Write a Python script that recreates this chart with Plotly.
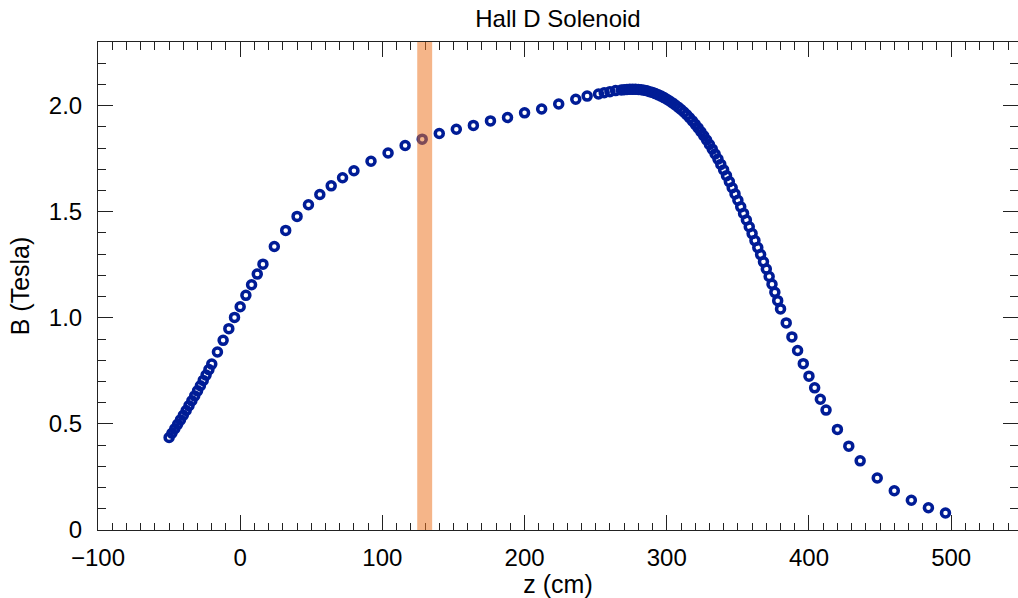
import plotly.graph_objects as go

# z positions (cm) of the field-map samples
z_cm = [-50, -48, -46, -44, -42, -40, -38, -36, -34, -32, -30, -28, -26, -24, -22, -20,
        -16, -12, -8, -4, 0, 4, 8, 12, 16,
        24, 32, 40, 48, 56, 64, 72, 80,
        92, 104, 116, 128, 140, 152, 164, 176, 188, 200, 212, 224, 236,
        244, 252, 256, 260, 264,
        268, 270, 272, 274, 276, 278, 280, 282, 284, 286, 288, 290, 292, 294, 296, 298,
        300, 302, 304, 306, 308, 310, 312, 314, 316, 318, 320, 322, 324, 326, 328, 330,
        332, 334, 336, 338, 340, 342, 344, 346, 348, 350, 352, 354, 356, 358, 360, 362,
        364, 366, 368, 370, 372, 374, 376, 378, 380,
        384, 388, 392, 396, 400, 404, 408, 412,
        420, 428, 436,
        448, 460, 472, 484, 496]

# B field (Tesla)
b_tesla = [0.436, 0.456, 0.477, 0.498, 0.519, 0.541, 0.563, 0.586, 0.609, 0.632, 0.656, 0.680, 0.705, 0.730, 0.756, 0.782,
           0.839, 0.894, 0.949, 1.002, 1.052, 1.106, 1.156, 1.206, 1.253,
           1.336, 1.412, 1.478, 1.533, 1.581, 1.622, 1.660, 1.693,
           1.738, 1.777, 1.812, 1.842, 1.869, 1.889, 1.907, 1.928, 1.944, 1.966, 1.984, 2.008, 2.030,
           2.045, 2.055, 2.061, 2.066, 2.071,
           2.074, 2.075, 2.076, 2.077, 2.077, 2.077, 2.076, 2.075, 2.073, 2.070, 2.066, 2.062, 2.057, 2.051, 2.045, 2.038,
           2.030, 2.022, 2.013, 2.003, 1.993, 1.982, 1.970, 1.957, 1.943, 1.928, 1.912, 1.895, 1.877, 1.858, 1.838, 1.817,
           1.795, 1.772, 1.748, 1.723, 1.697, 1.670, 1.642, 1.613, 1.584, 1.554, 1.523, 1.492, 1.461, 1.429, 1.397, 1.364,
           1.331, 1.298, 1.264, 1.230, 1.195, 1.158, 1.120, 1.081, 1.042,
           0.976, 0.910, 0.846, 0.784, 0.725, 0.670, 0.616, 0.565,
           0.474, 0.395, 0.326,
           0.245, 0.185, 0.140, 0.105, 0.080]

band_z = [124.5, 135.0]

x_ticks = [-100, 0, 100, 200, 300, 400, 500]
y_ticks = [0, 0.5, 1.0, 1.5, 2.0]
y_ticktext = ["0", "0.5", "1.0", "1.5", "2.0"]

FONT = "Liberation Sans, Arial, Helvetica, sans-serif"
AX = "#222222"

fig = go.Figure()
fig.add_trace(go.Scatter(
    x=z_cm, y=b_tesla, mode="markers",
    marker=dict(symbol="circle-open", size=8, color="rgb(0,28,150)",
                line=dict(width=3.5, color="rgb(0,28,150)")),
    showlegend=False, hoverinfo="x+y"))

fig.add_shape(type="rect", xref="x", yref="paper",
              x0=band_z[0], x1=band_z[1], y0=0, y1=1,
              fillcolor="rgba(236,115,32,0.53)", line=dict(width=0), layer="above")

fig.update_layout(
    width=1018, height=598,
    margin=dict(l=97.5, r=0, t=42, b=68, autoexpand=False),
    paper_bgcolor="white", plot_bgcolor="white",
    font=dict(family=FONT, size=24, color="black"),
    title=dict(text="Hall D Solenoid", x=0.5, xref="paper", xanchor="center",
               y=1 - 19 / 598, yref="container", yanchor="middle",
               font=dict(family=FONT, size=24, color="black")),
    xaxis=dict(range=[-100, 547], tickvals=x_ticks, ticks="inside", ticklen=15, tickwidth=1,
               tickcolor=AX, showline=True, linecolor=AX, linewidth=1, mirror="allticks",
               showgrid=False, zeroline=False, automargin=False,
               minor=dict(dtick=10, tick0=0, ticks="inside", ticklen=7.5, tickwidth=1, tickcolor=AX,
                          showgrid=False),
               tickfont=dict(size=24), ticklabelstandoff=6,
               title=dict(text="z (cm)", font=dict(size=25), standoff=6)),
    yaxis=dict(range=[0, 2.3], tickvals=y_ticks, ticktext=y_ticktext, ticks="inside", ticklen=15,
               tickwidth=1, tickcolor=AX, showline=True, linecolor=AX, linewidth=1, mirror="allticks",
               showgrid=False, zeroline=False, automargin=False,
               minor=dict(dtick=0.1, tick0=0, ticks="inside", ticklen=8, tickwidth=1, tickcolor=AX,
                          showgrid=False),
               tickfont=dict(size=24), ticklabelstandoff=10,
               title=dict(text="B (Tesla)", font=dict(size=25), standoff=12)),
)

fig.write_html("out.html", config={"displayModeBar": False},
               post_script="document.body.style.margin='0';document.body.style.overflow='hidden';")
